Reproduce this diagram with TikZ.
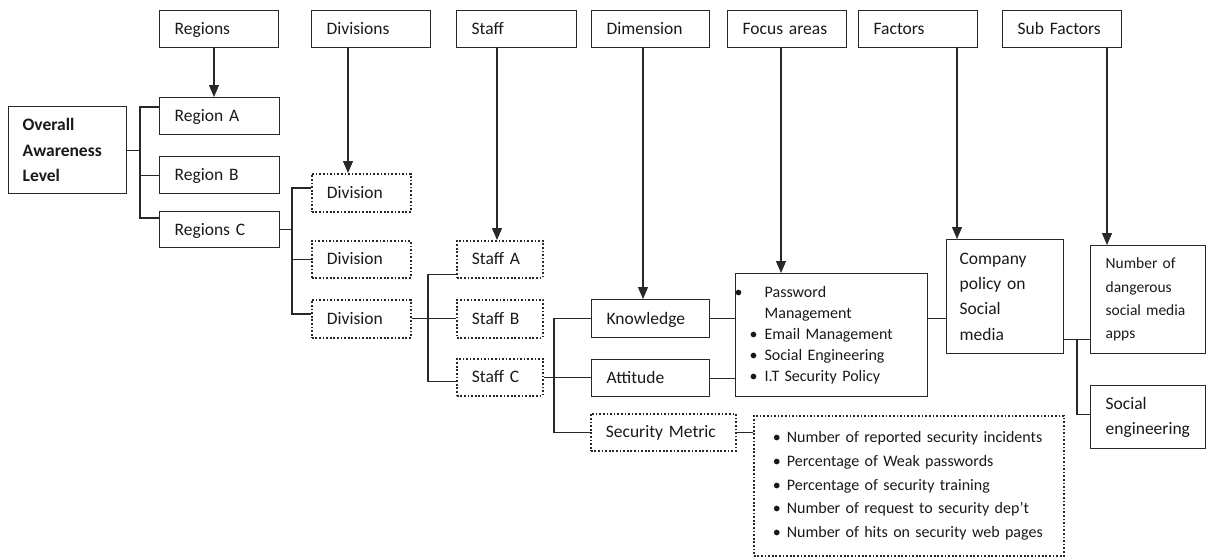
\documentclass[tikz,border=0pt]{standalone}
\usepackage{fontspec}
\setmainfont{Carlito}[WordSpace=0.8]
\usetikzlibrary{arrows.meta,calc}
\definecolor{lc}{RGB}{40,40,40}
\definecolor{tc}{RGB}{25,25,25}
\newcommand\fmain{\fontsize{17.5}{21}\selectfont}
\newcommand\flist{\fontsize{16}{21}\selectfont}
\newcommand\fsmall{\fontsize{15.5}{23.3}\selectfont}
\tikzset{
  box/.style={draw=lc, line width=1.3pt, anchor=north west, inner xsep=15pt,
    inner ysep=0pt, align=left, font=\fmain, text=tc},
  single/.style={text height=13pt, text depth=2pt},
  dotbox/.style={box, line width=1.7pt, dash pattern=on 1.7pt off 1.9pt},
  wire/.style={draw=lc, line width=1.2pt},
  arr/.style={wire, -{Triangle[length=12pt,width=10pt]}}
}
\begin{document}
\begin{tikzpicture}[x=1pt,y=-1pt]
\useasboundingbox (0,0) rectangle (1206,558);

% header row
\node[box, single, minimum width=119pt, minimum height=37pt, text width=89pt] (regionsT) at (159,10) {Regions};
\node[box, single, minimum width=119pt, minimum height=37pt, text width=89pt] (divisionsT) at (311,10) {Divisions};
\node[box, single, minimum width=120pt, minimum height=37pt, text width=90pt] (staffT) at (456,10) {Staff};
\node[box, single, minimum width=118pt, minimum height=37pt, text width=88pt] (dimT) at (591,10) {Dimension};
\node[box, single, minimum width=119pt, minimum height=37pt, text width=89pt] (focusT) at (727,10) {Focus areas};
\node[box, single, minimum width=119pt, minimum height=37pt, text width=89pt] (factorsT) at (858,10) {Factors};
\node[box, single, minimum width=119pt, minimum height=37pt, text width=89pt] (subT) at (1002,10) {Sub Factors};

% root
\node[box, inner xsep=14pt, minimum width=118pt, minimum height=87pt, text width=90pt,
  font=\fontsize{17.5}{25.5}\selectfont\bfseries] (overall) at (8,106) {Overall\\Awareness\\Level};

% regions
\node[box, single, minimum width=120pt, minimum height=37pt, text width=90pt] (regA) at (159,97) {Region A};
\node[box, single, minimum width=120pt, minimum height=37pt, text width=90pt] (regB) at (159,156) {Region B};
\node[box, single, minimum width=120pt, minimum height=36pt, text width=90pt] (regC) at (159,211) {Regions C};

% divisions
\node[dotbox, single, minimum width=99pt, minimum height=38pt, text width=69pt] (div1) at (311,173) {Division};
\node[dotbox, single, minimum width=99pt, minimum height=37pt, text width=69pt] (div2) at (311,240) {Division};
\node[dotbox, single, minimum width=99pt, minimum height=38pt, text width=69pt] (div3) at (311,299) {Division};

% staff
\node[dotbox, single, minimum width=86pt, minimum height=37pt, text width=56pt] (staffA) at (456,240) {Staff A};
\node[dotbox, single, minimum width=86pt, minimum height=38pt, text width=56pt] (staffB) at (456,299) {Staff B};
\node[dotbox, single, minimum width=86pt, minimum height=37pt, text width=56pt] (staffC) at (456,358) {Staff C};

% dimensions
\node[box, single, minimum width=118pt, minimum height=38pt, text width=88pt] (know) at (591,299) {Knowledge};
\node[box, single, minimum width=118pt, minimum height=37pt, text width=88pt] (att) at (591,359) {Attitude};
\node[dotbox, single, minimum width=145pt, minimum height=37pt, text width=115pt] (secm) at (590,413) {Security Metric};

% focus areas
\node[box, inner xsep=0pt, minimum width=192pt, minimum height=123pt, text width=192pt,
  font=\flist] (focus) at (735,273) {%
  \makebox[29pt][l]{\hspace*{-1pt}\textbullet}Password\\
  \hspace*{29pt}Management\\
  \hspace*{14pt}\makebox[15pt][l]{\textbullet}Email Management\\
  \hspace*{14pt}\makebox[15pt][l]{\textbullet}Social Engineering\\
  \hspace*{14pt}\makebox[15pt][l]{\textbullet}I.T Security Policy};

% security metrics
\node[dotbox, inner xsep=0pt, minimum width=310pt, minimum height=140pt, text width=310pt,
  font=\fontsize{16}{23.8}\selectfont] (metrics) at (753,415) {%
  \hspace*{19pt}\makebox[14pt][l]{\textbullet}Number of reported security incidents\\
  \hspace*{19pt}\makebox[14pt][l]{\textbullet}Percentage of Weak passwords\\
  \hspace*{19pt}\makebox[14pt][l]{\textbullet}Percentage of security training\\
  \hspace*{19pt}\makebox[14pt][l]{\textbullet}Number of request to security dep’t\\
  \hspace*{19pt}\makebox[14pt][l]{\textbullet}Number of hits on security web pages\\[6pt]};

% factors
\node[box, inner xsep=13pt, minimum width=117pt, minimum height=114pt, text width=91pt,
  font=\fontsize{17.5}{25.3}\selectfont] (company) at (946,239) {Company\\policy on\\Social\\media};

% sub factors
\node[box, minimum width=114.5pt, minimum height=108pt, text width=84.5pt,
  font=\fsmall] (number) at (1090,245) {Number of\\dangerous\\social media\\apps};
\node[box, minimum width=114.5pt, minimum height=63pt, text width=84.5pt,
  font=\fontsize{17.5}{25}\selectfont] (soceng) at (1090,385) {Social\\engineering};

% branch columns
\coordinate (tr1) at (140,0);
\coordinate (tr2) at (292,0);
\coordinate (tr3) at (428,0);
\coordinate (tr4) at (554,0);
\coordinate (tr5) at (1077,0);

% arrow columns
\coordinate (aR) at (214,0);
\coordinate (aD) at (348,0);
\coordinate (aS) at (497,0);
\coordinate (aM) at (643,0);
\coordinate (aF) at (781,0);
\coordinate (aC) at (957,0);
\coordinate (aN) at (1107,0);

% header arrows
\draw[arr] (regionsT.south -| aR) -- (regA.north -| aR);
\draw[arr] (divisionsT.south -| aD) -- (div1.north -| aD);
\draw[arr] (staffT.south -| aS) -- (staffA.north -| aS);
\draw[arr] (dimT.south -| aM) -- (know.north -| aM);
\draw[arr] (focusT.south -| aF) -- (focus.north -| aF);
\draw[arr] (factorsT.south -| aC) -- (company.north -| aC);
\draw[arr] (subT.south -| aN) -- (number.north -| aN);

% overall -> regions
\draw[wire] (overall.east) -- (overall.east -| tr1);
\draw[wire] ([yshift=-10pt]regA.north west) -- ([yshift=-10pt]regA.north west -| tr1)
  |- ([yshift=-7pt]regC.north west);
\draw[wire] (regB.west) -- (regB.west -| tr1);

% region C -> divisions
\draw[wire] (regC.east) -- (regC.east -| tr2);
\draw[wire] ([yshift=-15pt]div1.north west) -- ([yshift=-15pt]div1.north west -| tr2)
  |- ([yshift=-15pt]div3.north west);
\draw[wire] (div2.west) -- (div2.west -| tr2);

% division -> staff
\draw[wire] (div3.east) -- (div3.east -| staffB.west);
\draw[wire] ([yshift=4pt]staffA.south west) -- ([yshift=4pt]staffA.south west -| tr3)
  |- ([yshift=-4pt]staffC.west);

% staff C -> dimensions
\draw[wire] (staffC.east) -- (staffC.east -| att.west);
\draw[wire] (know.west) -- (know.west -| tr4) |- (secm.west);

% dimensions -> focus areas / metrics
\draw[wire] (know.east) -- (know.east -| focus.west);
\draw[wire] (att.east) -- (att.east -| focus.west);
\draw[wire] (secm.east) -- (secm.east -| metrics.west);

% focus areas -> factors
\draw[wire] (focus.east |- know.east) -- (company.west |- know.east);

% factors -> sub factors
\coordinate (cf) at ([yshift=15pt]company.south east);
\draw[wire] (cf) -- (cf -| number.west);
\draw[wire] (cf -| tr5) |- ([yshift=3pt]soceng.west);
\end{tikzpicture}
\end{document}
